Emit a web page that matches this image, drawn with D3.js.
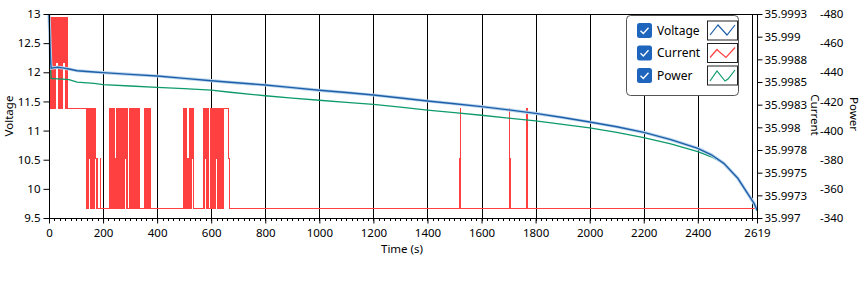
<!DOCTYPE html>
<html>
<head>
<meta charset="utf-8">
<script src="https://cdn.jsdelivr.net/npm/d3@7"></script>
<style>
body { margin: 0; background: #fff; }
text { font-family: "Noto Sans", sans-serif; font-size: 11.5px; fill: #000; }
</style>
</head>
<body>
<script>
// time (s) for the voltage and power traces
var timeVP = [0, 2, 4, 6, 8, 20, 31, 50, 74, 104, 167, 200, 300, 400, 500, 600, 670, 800, 900, 1000,
  1100, 1200, 1300, 1400, 1500, 1600, 1700, 1800, 1900, 2000, 2100, 2200, 2300, 2400, 2450, 2496,
  2548, 2584, 2608, 2619];

var voltage = [12.99, 12.75, 12.45, 12.2, 12.07, 12.08, 12.086, 12.075, 12.056, 12.027, 12.005, 11.995,
  11.965, 11.936, 11.895, 11.856, 11.828, 11.782, 11.737, 11.691, 11.652, 11.61, 11.56, 11.507, 11.46,
  11.41, 11.355, 11.296, 11.225, 11.147, 11.065, 10.97, 10.845, 10.696, 10.585, 10.438, 10.181, 9.924,
  9.752, 9.637];

var power = [-479, -466, -452, -441, -435.6, -435.6, -435.5, -435.3, -435.0, -433.2, -432.4, -431.5,
  -430.6, -429.7, -428.8, -427.7, -426.3, -423.9, -422.3, -420.8, -419.4, -418.0, -416.1, -414.1, -412.3,
  -410.5, -408.6, -406.6, -404.3, -401.8, -398.7, -395.1, -390.8, -385.5, -382.0, -377.5, -367.2, -357.0,
  -350.1, -344.8];

// current is quantised to a few levels; steps are [time, level index]
var currentLevels = [35.99711, 35.99766, 35.99821, 35.99871, 35.99921];
var currentSteps = [
  [0,4],[3,4],[6,2],[7,4],[9,2],[10,4],[12,2],[13,3],[14,2],[15,4],[17,2],[18,4],[20,2],[21,3],[23,2],
  [24,4],[26,3],[28,4],[30,3],[31,4],[33,3],[35,4],[36,2],[37,4],[39,2],[40,3],[42,4],[43,2],[44,4],
  [46,2],[47,4],[48,3],[50,2],[51,4],[53,3],[55,4],[57,3],[59,4],[61,3],[62,2],[63,4],[64,2],[66,4],
  [67,2],[68,3],[69,4],[70,2],
  [140,0],[142,2],[144,0],[145,2],[147,1],[149,2],[151,1],[152,2],[154,0],[157,2],[159,0],[161,2],
  [163,1],[165,0],[167,2],[169,0],[170,2],[172,1],[174,0],[176,1],[179,0],[190,1],[192,0],
  [224,2],[226,0],[229,2],[230,1],[233,0],[235,2],[237,0],[240,2],[241,1],[244,0],[246,1],[248,0],
  [249,1],[251,2],[253,0],[256,2],[258,0],[259,1],[262,2],[264,0],[267,2],[269,1],[270,0],[273,2],
  [275,0],[278,2],[280,0],[281,1],[284,2],[286,0],[289,2],[290,0],
  [298,2],[300,0],[303,2],[305,1],[307,0],[310,2],[312,0],[315,2],[317,0],[320,2],[322,1],[324,0],
  [327,2],[329,0],[331,2],[333,0],
  [352,2],[354,0],[357,2],[359,0],[362,2],[364,1],[366,0],[369,2],[371,0],[374,2],[376,0],
  [497,1],[499,2],[501,0],[504,2],[506,1],[508,2],[510,0],[513,1],[515,0],[517,1],[519,2],[521,0],
  [524,2],[526,0],[528,2],[530,1],[532,2],[535,0],
  [571,2],[573,0],[576,2],[578,1],[580,2],[583,0],[585,2],[587,1],[589,2],[590,0],
  [599,2],[601,0],[603,2],[604,1],[607,2],[609,0],[612,2],[614,0],[616,2],[618,1],[620,2],[622,0],
  [625,2],[627,0],[629,2],[631,1],[633,2],[635,0],[637,2],[639,1],[641,2],[643,0],[644,2],
  [646,2],[664,1],[668,0],
  [1520,1],[1521,2],[1522,1],[1524,0],[1702,1],[1703,2],[1704,1],[1706,0],[1767,1],[1768,2],[1769,1],
  [1771,0],[2619,0]
];

// ticks
var timeTicks = [0, 200, 400, 600, 800, 1000, 1200, 1400, 1600, 1800, 2000, 2200, 2400, 2619];
var gridTicks = [200, 400, 600, 800, 1000, 1200, 1400, 1600, 1800, 2000, 2200, 2400, 2600];
var voltTicks = [9.5, 10, 10.5, 11, 11.5, 12, 12.5, 13];
var currTicks = [35.997, 35.99725, 35.9975, 35.99775, 35.998, 35.99825, 35.9985, 35.99875, 35.999, 35.99925];
var currLabels = ["35.997", "35.9973", "35.9975", "35.9978", "35.998", "35.9983", "35.9985", "35.9988", "35.999", "35.9993"];
var powerTicks = [-340, -360, -380, -400, -420, -440, -460, -480];

var seriesNames = ["Voltage", "Current", "Power"];
var colors = ["#1d5fa8", "#ff4040", "#0e9a6c"];

var W = 865, H = 288;
var plotL = 49, plotR = 757, plotT = 14, plotB = 218;

var svg = d3.select("body").append("svg")
    .attr("width", W)
    .attr("height", H);

var x = d3.scaleLinear().domain([0, 2619]).range([plotL, plotR]);
var yV = d3.scaleLinear().domain([9.5, 13]).range([plotB, plotT]);
var yC = d3.scaleLinear().domain([35.997, 35.99925]).range([plotB, plotT]);
var yP = d3.scaleLinear().domain([-340, -480]).range([plotB, plotT]);

// vertical grid
svg.append("g").selectAll("line")
    .data(gridTicks)
    .enter().append("line")
      .attr("x1", function(d) { return Math.round(x(d)) + 0.5; })
      .attr("x2", function(d) { return Math.round(x(d)) + 0.5; })
      .attr("y1", plotT)
      .attr("y2", plotB)
      .attr("stroke", "#000")
      .attr("stroke-width", 1);

// current (red)
var currLine = d3.line()
    .curve(d3.curveStepAfter)
    .x(function(d) { return x(d[0]); })
    .y(function(d) { return yC(currentLevels[d[1]]); });
svg.append("path")
    .datum(currentSteps)
    .attr("d", currLine)
    .attr("fill", "none")
    .attr("stroke", colors[1])
    .attr("stroke-width", 1)
    .attr("shape-rendering", "crispEdges");

// power (green)
var powLine = d3.line()
    .x(function(d, i) { return x(timeVP[i]); })
    .y(function(d) { return yP(d); });
svg.append("path")
    .datum(power)
    .attr("d", powLine)
    .attr("fill", "none")
    .attr("stroke", colors[2])
    .attr("stroke-width", 1.3);

// voltage (blue with a light halo)
var voltLine = d3.line()
    .x(function(d, i) { return x(timeVP[i]); })
    .y(function(d) { return yV(d); });
svg.append("path")
    .datum(voltage)
    .attr("d", voltLine)
    .attr("fill", "none")
    .attr("stroke", "#bcd6ee")
    .attr("stroke-width", 3.2);
svg.append("path")
    .datum(voltage)
    .attr("d", voltLine)
    .attr("fill", "none")
    .attr("stroke", colors[0])
    .attr("stroke-width", 1.4);

// plot border
svg.append("rect")
    .attr("x", plotL + 0.5)
    .attr("y", plotT + 0.5)
    .attr("width", plotR - plotL)
    .attr("height", plotB - plotT)
    .attr("fill", "none")
    .attr("stroke", "#000");

// axes
svg.append("g")
    .attr("transform", "translate(" + (plotL + 0.5) + ",0)")
    .call(d3.axisLeft(yV).tickValues(voltTicks).tickSize(6).tickPadding(3).tickFormat(d3.format("")))
    .call(function(g) { g.select(".domain").remove(); })
    .call(function(g) { g.selectAll("text").attr("fill", "#000"); });

// minor ticks on time axis
svg.append("g").selectAll("line")
    .data(d3.range(20, 2619, 20))
    .enter().append("line")
      .attr("x1", function(d) { return Math.round(x(d)) + 0.5; })
      .attr("x2", function(d) { return Math.round(x(d)) + 0.5; })
      .attr("y1", plotB)
      .attr("y2", plotB + 3)
      .attr("stroke", "#000");

svg.append("g")
    .attr("transform", "translate(0," + (plotB + 0.5) + ")")
    .call(d3.axisBottom(x).tickValues(timeTicks).tickSize(5).tickPadding(5).tickFormat(d3.format("")))
    .call(function(g) { g.select(".domain").remove(); })
    .call(function(g) { g.selectAll("text").attr("fill", "#000"); });

svg.append("g")
    .attr("transform", "translate(" + (plotR + 0.5) + ",0)")
    .call(d3.axisRight(yC).tickValues(currTicks).tickSize(5).tickPadding(2)
      .tickFormat(function(d, i) { return currLabels[i]; }))
    .call(function(g) { g.select(".domain").remove(); })
    .call(function(g) { g.selectAll("text").attr("fill", "#000"); });

svg.append("g")
    .attr("transform", "translate(816,0)")
    .call(d3.axisRight(yP).tickValues(powerTicks).tickSize(0).tickPadding(4)
      .tickFormat(function(d) { return String(d); }))
    .call(function(g) { g.select(".domain").remove(); })
    .call(function(g) { g.selectAll("text").attr("fill", "#000"); });

// axis titles
var labels = svg.append("g");
labels.append("text")
    .text("Voltage")
    .attr("text-anchor", "middle")
    .attr("transform", "translate(13,116) rotate(-90)");
labels.append("text")
    .text("Time (s)")
    .attr("text-anchor", "middle")
    .attr("x", 402)
    .attr("y", 253);
labels.append("text")
    .text("Current")
    .attr("text-anchor", "middle")
    .attr("transform", "translate(811,115) rotate(90)");
labels.append("text")
    .text("Power")
    .attr("text-anchor", "middle")
    .attr("transform", "translate(850,114) rotate(90)");

// legend
var legend = svg.append("g");
legend.append("rect")
    .attr("x", 626.5).attr("y", 15.5)
    .attr("width", 112).attr("height", 80)
    .attr("rx", 4)
    .attr("fill", "#fff")
    .attr("stroke", "#555");

var rowY = [30.5, 53, 75.5];
var zig = [
  [[2, 14], [10, 4], [19, 14], [27, 4]],
  [[2, 14], [9, 6], [11, 8], [18, 14], [27, 4]],
  [[2, 15], [9, 5], [17, 15], [20, 13], [27, 4]]
];
var rows = legend.selectAll("g.row")
    .data(seriesNames)
    .enter().append("g")
      .attr("transform", function(d, i) { return "translate(0," + rowY[i] + ")"; });

rows.append("rect")
    .attr("x", 637).attr("y", -7.5)
    .attr("width", 15).attr("height", 15)
    .attr("rx", 2.5)
    .attr("fill", "#1e66bd");
rows.append("path")
    .attr("d", "M640.5,0.3 L643.3,3 L648.5,-2.7")
    .attr("fill", "none")
    .attr("stroke", "#fff")
    .attr("stroke-width", 1.3);
rows.append("text")
    .text(function(d) { return d; })
    .attr("x", 657)
    .attr("y", 4)
    .style("font-size", "12px");
rows.append("rect")
    .attr("x", 707.5).attr("y", -9.5)
    .attr("width", 30).attr("height", 19)
    .attr("fill", "#fff")
    .attr("stroke", "#222");
rows.append("path")
    .attr("d", function(d, i) {
      return d3.line()(zig[i].map(function(p) { return [708 + p[0], -9.5 + p[1]]; }));
    })
    .attr("fill", "none")
    .attr("stroke", function(d, i) { return colors[i]; })
    .attr("stroke-width", 1.2);
</script>
</body>
</html>
